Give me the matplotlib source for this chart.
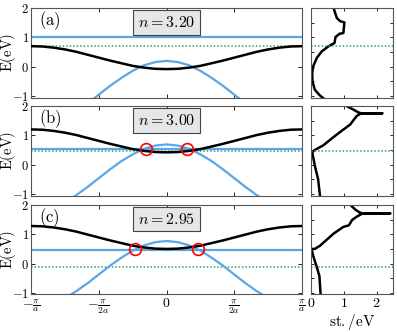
import matplotlib

matplotlib.use("Agg")
import matplotlib.pyplot as plt
import numpy as np

plt.rcParams["mathtext.fontset"] = "cm"
plt.rcParams["font.family"] = "serif"
plt.rcParams["font.serif"] = ["cmr10", "DejaVu Serif"]
plt.rcParams["axes.formatter.use_mathtext"] = True

# k grid in units of pi/12 (a = 1)
K = np.pi / 12 * np.arange(-12, 13)

# band energies, for k = 0, pi/12, ..., pi (symmetric in k)
BLACK_HALF = {
    "a": [-0.08, -0.07, -0.03, 0.03, 0.12, 0.21, 0.31, 0.41, 0.51, 0.59, 0.65, 0.69, 0.70],
    "b": [0.42, 0.43, 0.47, 0.53, 0.62, 0.71, 0.81, 0.91, 1.01, 1.09, 1.15, 1.19, 1.20],
    "c": [0.50, 0.51, 0.55, 0.61, 0.70, 0.79, 0.89, 0.99, 1.09, 1.17, 1.23, 1.27, 1.28],
}
BLUE_HALF = {
    "a": [0.20, 0.16, 0.05, -0.14, -0.38, -0.65, -0.95, -1.25, -1.53, -1.76, -1.95, -2.06, -2.10],
    "b": [0.69, 0.65, 0.54, 0.35, 0.12, -0.16, -0.46, -0.76, -1.04, -1.27, -1.46, -1.57, -1.61],
    "c": [0.77, 0.73, 0.62, 0.44, 0.20, -0.07, -0.37, -0.67, -0.94, -1.18, -1.36, -1.47, -1.51],
}
FLAT_BAND = {"a": 1.00, "b": 0.54, "c": 0.48}
FERMI = {"a": 0.69, "b": 0.45, "c": -0.13}
FILLING = {"a": "3.20", "b": "3.00", "c": "2.95"}
CROSS_K = {"a": [], "b": [-0.48, 0.48], "c": [-0.73, 0.74]}
CROSS_E = {"a": [], "b": [0.55, 0.55], "c": [0.49, 0.49]}

# density of states (st./eV) vs energy
DOS = {
    "a": [0.69, 0.79, 0.89, 1.02, 0.99, 0.87, 0.75, 0.72, 0.53, 0.33, 0.18, 0.07, 0.04, 0.05, 0.12, 0.26, 0.38],
    "b": [1.08, 1.30, 1.43, 1.52, 2.18, 1.52, 1.40, 1.30, 1.20, 1.07, 0.97, 0.69, 0.38, 0.12, 0.04, 0.07, 0.12, 0.22, 0.28],
    "c": [1.20, 1.35, 1.47, 1.56, 2.42, 1.56, 1.40, 1.25, 1.18, 1.15, 0.99, 0.69, 0.28, 0.12, 0.02, 0.07, 0.17, 0.26, 0.30],
}
DOS_E = {
    "a": [2.0, 1.66, 1.55, 1.51, 1.15, 1.12, 1.01, 0.81, 0.69, 0.52, 0.30, 0.01, -0.22, -0.50, -0.78, -0.96, -1.07],
    "b": [2.0, 1.87, 1.79, 1.75, 1.75, 1.74, 1.66, 1.52, 1.37, 1.26, 1.18, 0.94, 0.66, 0.50, 0.43, 0.26, -0.03, -0.49, -1.07],
    "c": [2.0, 1.84, 1.75, 1.71, 1.71, 1.70, 1.60, 1.48, 1.34, 1.30, 1.25, 1.02, 0.61, 0.50, 0.50, 0.27, -0.08, -0.42, -1.1],
}

KTICKS = [-np.pi, -np.pi / 2, 0, np.pi / 2, np.pi]
KTICK_LABELS = [r"$-\frac{\pi}{a}$", r"$-\frac{\pi}{2a}$", r"$0$", r"$\frac{\pi}{2a}$", r"$\frac{\pi}{a}$"]

BLUE = "#5aa7e6"
GREEN = "#2f9e6e"
YLIM = (-1.05, 2.0)


def full(half):
    half = list(half)
    return half[::-1] + half[1:]


fig = plt.figure(figsize=(3.97, 3.32), dpi=100)
tops = [0.976, 0.681, 0.383]
h = 0.270

for i, p in enumerate(["a", "b", "c"]):
    ax = fig.add_axes([0.078, tops[i] - h, 0.683, h])
    ax_d = fig.add_axes([0.783, tops[i] - h, 0.207, h])

    ax.axhline(FLAT_BAND[p], color=BLUE, lw=1.6, zorder=2)
    ax.plot(K, full(BLUE_HALF[p]), color=BLUE, lw=1.6, zorder=2)
    ax.plot(K, full(BLACK_HALF[p]), color="black", lw=1.8, zorder=3)
    ax.axhline(FERMI[p], color=GREEN, lw=1.1, ls=(0, (1, 1.3)), zorder=1)
    if CROSS_K[p]:
        ax.plot(CROSS_K[p], CROSS_E[p], "o", ms=8.5, mfc="none", mec="red", mew=1.2, zorder=4)

    ax.text(0.03, 0.86, r"$\mathrm{(%s)}$" % p, transform=ax.transAxes, fontsize=12, va="center", ha="left")
    ax.text(0.5, 0.84, r"$n = %s$" % FILLING[p], transform=ax.transAxes, fontsize=11.5, va="center",
            ha="center", bbox=dict(boxstyle="square,pad=0.3", fc="#e6e6e6", ec="#444444", lw=0.8))

    ax.set_xlim(-np.pi, np.pi)
    ax.set_ylim(*YLIM)
    ax.set_yticks([-1, 0, 1, 2])
    ax.set_yticklabels([r"$-1$", r"$0$", r"$1$", r"$2$"], fontsize=9)
    ax.set_xticks(KTICKS)
    if i == 2:
        ax.set_xticklabels(KTICK_LABELS, fontsize=10)
    else:
        ax.set_xticklabels([])
    ax.set_ylabel(r"$\mathrm{E(eV)}$", fontsize=10.5)
    ax.yaxis.set_label_coords(-0.046, 0.5)
    ax.tick_params(direction="in", top=True, right=True, length=3, width=0.6)
    ax.tick_params(axis="y", pad=1.5)
    ax.tick_params(axis="x", pad=2)

    ax_d.plot(DOS[p], DOS_E[p], color="black", lw=1.8)
    ax_d.axhline(FERMI[p], color=GREEN, lw=1.1, ls=(0, (1, 1.3)))
    ax_d.set_xlim(0, 2.5)
    ax_d.set_ylim(*YLIM)
    ax_d.set_yticks([-1, -0.5, 0, 0.5, 1, 1.5, 2])
    ax_d.set_yticklabels([])
    ax_d.set_xticks([0, 1, 2])
    if i == 2:
        ax_d.set_xticklabels([r"$0$", r"$1$", r"$2$"], fontsize=10)
        ax_d.set_xlabel(r"$\mathrm{st./eV}$", fontsize=11, labelpad=1)
    else:
        ax_d.set_xticklabels([])
    ax_d.tick_params(direction="in", top=True, right=True, length=2.5, width=0.6, pad=2)

    for a_ in (ax, ax_d):
        for s in a_.spines.values():
            s.set_color("#555555")
            s.set_linewidth(0.8)

fig.savefig("out.png", dpi=100)
